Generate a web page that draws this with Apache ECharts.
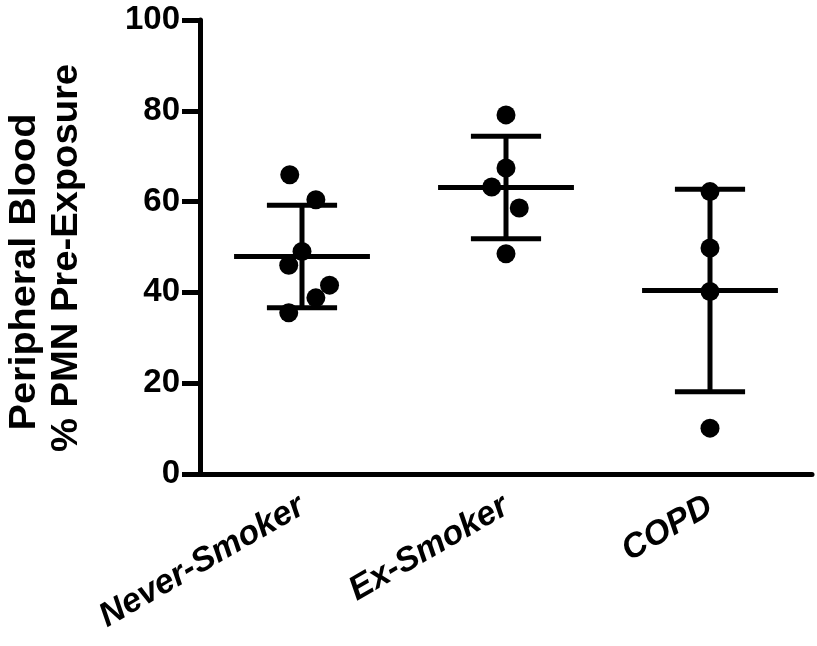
<!DOCTYPE html>
<html lang="en">
<head>
<meta charset="UTF-8">
<title>Peripheral Blood PMN</title>
<script src="https://cdn.jsdelivr.net/npm/echarts@6/dist/echarts.min.js"></script>
<style>
  html, body { margin: 0; padding: 0; background: #fff; }
  #chart { width: 817px; height: 646px; }
</style>
</head>
<body>
<div id="chart"></div>
<script>
// groups on the x axis
var groups = ['Never-Smoker', 'Ex-Smoker', 'COPD'];
// individual subjects, % PMN pre-exposure
var neverValues = [65.9, 60.4, 49.0, 46.0, 41.6, 38.8, 35.5];
var exValues = [79.1, 67.4, 63.2, 58.6, 48.5];
var copdValues = [62.2, 49.8, 40.2, 10.1];
// horizontal spread of the dots (in group widths), as drawn
var neverJitter = [-0.06, 0.068, 0, -0.065, 0.135, 0.068, -0.065];
var exJitter = [0, 0, -0.07, 0.065, 0];
var copdJitter = [0, 0, 0, 0];
// mean and SD per group
var groupMean = [47.9, 63.1, 40.4];
var groupSD = [11.3, 11.3, 22.3];
var yTicks = [0, 20, 40, 60, 80, 100];

var chart = echarts.init(document.getElementById('chart'));
var font = '"Liberation Sans", Arial, Helvetica, sans-serif';

var dots = [];
[neverValues, exValues, copdValues].forEach(function (vals, g) {
    var jit = [neverJitter, exJitter, copdJitter][g];
    vals.forEach(function (v, i) { dots.push([g + jit[i], v]); });
});
var bars = groupMean.map(function (m, g) { return [g, m, groupSD[g]]; });

chart.setOption({
    backgroundColor: '#fff',
    animation: false,
    grid: { left: 200, right: 5, top: 20, bottom: 172 },
    xAxis: [{
        type: 'category',
        data: groups,
        boundaryGap: true,
        axisLine: { lineStyle: { color: '#000', width: 5 } },
        axisTick: { alignWithLabel: true, length: 18, lineStyle: { color: '#000', width: 5 } },
        axisLabel: {
            rotate: 30, margin: 30, interval: 0,
            color: '#000', fontFamily: font, fontWeight: 'bold', fontStyle: 'italic', fontSize: 34
        },
        splitLine: { show: false }
    }, {
        type: 'value', min: -0.5, max: 2.5, show: false
    }],
    yAxis: {
        type: 'value', min: yTicks[0], max: yTicks[yTicks.length - 1], interval: 20,
        axisLine: { show: true, onZero: false, lineStyle: { color: '#000', width: 5 } },
        axisTick: { show: true, length: 18, lineStyle: { color: '#000', width: 5 } },
        axisLabel: { margin: 20, color: '#000', fontFamily: font, fontWeight: 'bold', fontSize: 33 },
        splitLine: { show: false }
    },
    graphic: [{
        type: 'text', x: 25, y: 272, rotation: Math.PI / 2, scaleX: 1.1,
        style: { text: 'Peripheral Blood', fill: '#000', font: 'bold 36px ' + font, align: 'center', verticalAlign: 'middle' }
    }, {
        type: 'text', x: 67, y: 258, rotation: Math.PI / 2, scaleX: 1.06,
        style: { text: '% PMN Pre-Exposure', fill: '#000', font: 'bold 36px ' + font, align: 'center', verticalAlign: 'middle' }
    }],
    series: [{
        type: 'custom',
        xAxisIndex: 1,
        data: bars,
        renderItem: function (params, api) {
            var g = api.value(0), m = api.value(1), sd = api.value(2);
            var band = api.size([1, 0])[0];
            var c = api.coord([g, m]);
            var top = api.coord([g, m + sd]);
            var bot = api.coord([g, m - sd]);
            var meanHalf = band * 0.333, capHalf = band * 0.172;
            var st = { stroke: '#000', lineWidth: 5 };
            return {
                type: 'group',
                children: [
                    { type: 'line', shape: { x1: c[0] - meanHalf, y1: c[1], x2: c[0] + meanHalf, y2: c[1] }, style: st },
                    { type: 'line', shape: { x1: c[0], y1: top[1], x2: c[0], y2: bot[1] }, style: st },
                    { type: 'line', shape: { x1: c[0] - capHalf, y1: top[1], x2: c[0] + capHalf, y2: top[1] }, style: st },
                    { type: 'line', shape: { x1: c[0] - capHalf, y1: bot[1], x2: c[0] + capHalf, y2: bot[1] }, style: st }
                ]
            };
        }
    }, {
        type: 'scatter',
        xAxisIndex: 1,
        data: dots,
        symbol: 'circle',
        symbolSize: 19,
        itemStyle: { color: '#000', opacity: 1 }
    }]
});
</script>
</body>
</html>
